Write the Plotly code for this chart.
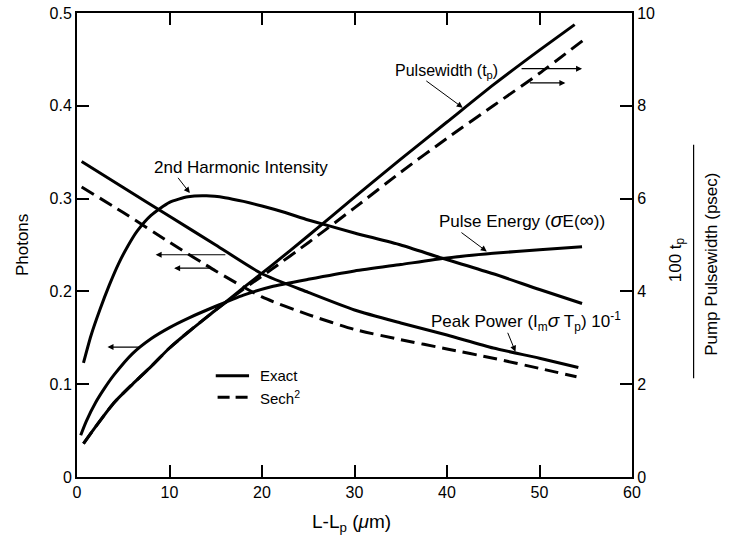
import plotly.graph_objects as go

# ---- data ----
sh_x = [0.7, 1.5, 2.5, 3.5, 4.5, 5.5, 6.5, 8, 10, 12, 14, 16, 18, 20, 22.5, 25, 30, 35, 39.4, 45, 50, 54.6]
sh_y = [0.123, 0.152, 0.181, 0.207, 0.230, 0.249, 0.265, 0.282, 0.296, 0.302, 0.303, 0.301, 0.297, 0.292,
        0.285, 0.277, 0.263, 0.250, 0.236, 0.219, 0.202, 0.187]

pe_x = [0.4, 1, 2, 3, 4, 6, 8, 10, 12, 15, 18, 21, 25, 30, 35, 40, 45, 50, 54.6]
pe_y = [0.045, 0.060, 0.080, 0.096, 0.110, 0.133, 0.149, 0.161, 0.171, 0.184, 0.196, 0.205, 0.213,
        0.222, 0.229, 0.236, 0.241, 0.245, 0.248]

pp_x = [0.5, 5, 10, 15, 20, 25, 30, 35, 40, 45, 50, 54.2]
pp_exact = [0.340, 0.312, 0.281, 0.250, 0.219, 0.199, 0.180, 0.166, 0.153, 0.139, 0.128, 0.118]
ps_x = [0.5, 5, 10, 15, 20, 25, 30, 35, 40, 45, 50, 54]
pp_sech = [0.3125, 0.285, 0.253, 0.222, 0.194, 0.175, 0.159, 0.148, 0.138, 0.128, 0.117, 0.108]

pw_x = [0.7, 2, 4, 6, 8, 10, 12, 15, 18, 21, 25, 30, 35, 40, 45, 50, 53.8]
pw_exact = [0.72, 1.08, 1.6, 2.0, 2.38, 2.78, 3.12, 3.6, 4.08, 4.55, 5.2, 6.03, 6.85, 7.65, 8.45, 9.2, 9.75]
pws_x = [0.7, 2, 4, 6, 8, 10, 12, 15, 18, 21, 25, 30, 35, 40, 45, 50, 54.9]
pw_sech = [0.72, 1.08, 1.6, 2.0, 2.38, 2.78, 3.12, 3.6, 4.05, 4.47, 5.05, 5.8, 6.57, 7.3, 8.0, 8.7, 9.44]

x_ticks = [0, 10, 20, 30, 40, 50, 60]
y_ticks = [0, 0.1, 0.2, 0.3, 0.4, 0.5]
y_tick_text = ["0", "0.1", "0.2", "0.3", "0.4", "0.5"]
y2_ticks = [0, 2, 4, 6, 8, 10]

FONT = "Liberation Sans, Arial, sans-serif"
LW = 3
DASH = "14px,7px"
SPL = dict(shape="spline", smoothing=0.6)

fig = go.Figure()
fig.add_trace(go.Scatter(x=sh_x, y=sh_y, mode="lines", line=dict(color="black", width=LW, **SPL)))
fig.add_trace(go.Scatter(x=pe_x, y=pe_y, mode="lines", line=dict(color="black", width=LW, **SPL)))
fig.add_trace(go.Scatter(x=pp_x, y=pp_exact, mode="lines", line=dict(color="black", width=LW, **SPL)))
fig.add_trace(go.Scatter(x=ps_x, y=pp_sech, mode="lines", line=dict(color="black", width=LW, dash=DASH, **SPL)))
fig.add_trace(go.Scatter(x=pw_x, y=pw_exact, mode="lines", yaxis="y2", line=dict(color="black", width=LW, **SPL)))
fig.add_trace(go.Scatter(x=pws_x, y=pw_sech, mode="lines", yaxis="y2", line=dict(color="black", width=LW, dash=DASH, **SPL)))

# legend samples (drawn in data coords)
fig.add_trace(go.Scatter(x=[15.0, 18.6], y=[0.109, 0.109], mode="lines", line=dict(color="black", width=LW)))
fig.add_trace(go.Scatter(x=[15.2, 18.6], y=[0.086, 0.086], mode="lines", line=dict(color="black", width=LW, dash="12px,6px")))

ann = []
def txt(x, y, s, size=16, xanchor="left"):
    ann.append(dict(x=x, y=y, xref="x", yref="y", text=s, showarrow=False, xanchor=xanchor, yanchor="middle",
                    font=dict(family=FONT, size=size, color="black")))

def arrow(x0, y0, x1, y1, head=2, size=1.0, width=1.2):
    ann.append(dict(x=x1, y=y1, ax=x0, ay=y0, xref="x", yref="y", axref="x", ayref="y", text="",
                    showarrow=True, arrowhead=head, arrowsize=size, arrowwidth=width, arrowcolor="black"))

txt(19.6, 0.109, "Exact", size=15)
txt(19.6, 0.086, "Sech<sup>2</sup>", size=15)
txt(8.1, 0.333, "2nd Harmonic Intensity", size=17)
arrow(10.8, 0.324, 12.2, 0.306, head=2, size=1.2, width=1)
txt(34.2, 0.437, "Pulsewidth (t<sub>p</sub>)", size=16)
arrow(37.6, 0.428, 41.7, 0.398, head=2, size=1.2, width=1)
txt(38.9, 0.277, "Pulse Energy (<span style='font-size:20px'><i>σ</i></span>E(<span style='font-size:20px'>∞</span>))", size=17)
arrow(41.4, 0.2646, 44.3, 0.243, head=2, size=1.2, width=1)
txt(38.0, 0.1675, "Peak Power (I<sub>m</sub><span style='font-size:19px'><i>σ</i></span> T<sub>p</sub>) 10<sup>-1</sup>", size=17)
arrow(46.5, 0.157, 47.4, 0.135, head=2, size=1.2, width=1)

# horizontal pointer arrows
arrow(16.2, 0.2395, 8.5, 0.2395)
arrow(14.8, 0.225, 10.5, 0.225)
arrow(7.0, 0.14, 3.3, 0.14)
arrow(47.9, 0.44, 54.6, 0.44)
arrow(48.8, 0.4247, 52.8, 0.4247)

# axis titles
def ptxt(x, y, s, size, angle=0):
    ann.append(dict(x=x, y=y, xref="paper", yref="paper", text=s, textangle=angle, showarrow=False,
                    xanchor="center", yanchor="middle", font=dict(family=FONT, size=size, color="black")))

ptxt(-0.099, 0.5, "Photons", 17, -90)
ptxt(0.494, -0.099, "L-L<sub>p</sub> (<i>μ</i>m)", 19)
ptxt(1.080, 0.468, "100 t<sub>p</sub>", 17, -90)
ptxt(1.142, 0.459, "Pump Pulsewidth (psec)", 17, -90)

axis_common = dict(ticks="inside", ticklen=12, tickwidth=1.5, tickcolor="black", showline=True, linecolor="black",
                   linewidth=2, showgrid=False, zeroline=False, automargin=False,
                   tickfont=dict(family=FONT, size=16, color="black"))

fig.update_layout(
    width=732, height=540,
    margin=dict(l=77, r=100, t=13, b=63, autoexpand=False),
    paper_bgcolor="white", plot_bgcolor="white",
    showlegend=False,
    annotations=ann,
    shapes=[dict(type="line", xref="paper", yref="paper", x0=1.111, x1=1.111, y0=0.213, y1=0.716,
                 line=dict(color="black", width=1.2))],
    xaxis=dict(range=[0, 60], tickvals=x_ticks, mirror="ticks", **axis_common),
    yaxis=dict(range=[0, 0.5], tickvals=y_ticks, ticktext=y_tick_text, **axis_common),
    yaxis2=dict(range=[0, 10], tickvals=y2_ticks, overlaying="y", side="right", **axis_common),
)

fig.write_html("out.html", config={"displayModeBar": False},
               post_script="document.body.style.margin='0';document.body.style.overflow='hidden';")
